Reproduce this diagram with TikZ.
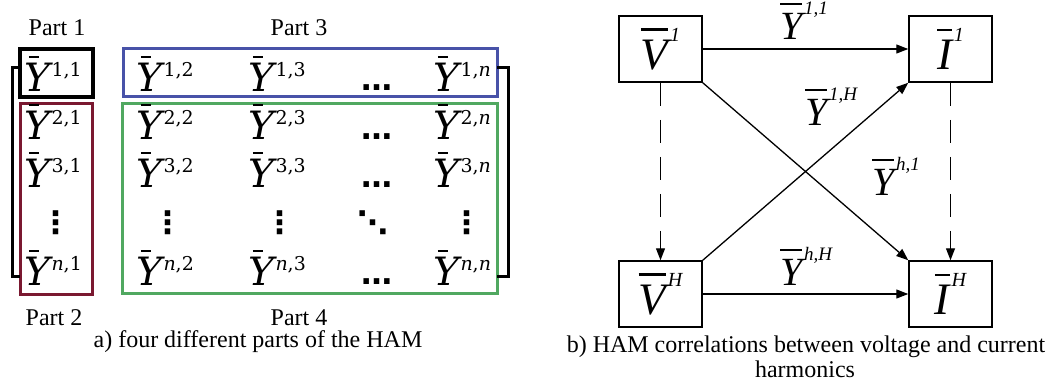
\documentclass[tikz,border=0pt]{standalone}
\usepackage{fontspec}
\setmainfont{Liberation Serif}
\newfontfamily\mfont{DejaVu Serif}
\newfontfamily\dfont{DejaVu Sans}
\usetikzlibrary{arrows.meta}
\definecolor{pblue}{RGB}{72,82,168}
\definecolor{pred}{RGB}{122,24,48}
\definecolor{pgreen}{RGB}{80,168,96}
\newsavebox\obox
\newcommand\ob[4]{{\fontsize{#3}{#3}\selectfont\sbox\obox{\itshape #1}\rlap{\rule[\dimexpr\ht\obox+0.2em\relax]{\wd\obox}{0.05em}}\usebox\obox\kern0.04em\raisebox{0.62em}{\fontsize{#4}{#4}\selectfont\itshape #2}}}
\newcommand\mb[1]{{\mfont\fontsize{39}{39}\selectfont\sbox\obox{\itshape Y}\rlap{\kern0.12em\rule[\dimexpr\ht\obox+0.12em\relax]{0.27em}{0.05em}}\usebox\obox\kern0.04em\raisebox{0.36em}{\fontsize{19}{19}\selectfont #1}}}
\tikzset{
  hbox/.style={draw, line width=1.5pt, minimum width=83pt, minimum height=66pt, inner sep=0pt},
  arr/.style={-{Triangle[length=12pt,width=9pt]}, line width=1.3pt},
  dsh/.style={dash pattern=on 23pt off 14pt},
  captxt/.style={font=\fontsize{24}{28}\selectfont, inner sep=0pt, anchor=base},
  ent/.style={inner sep=0pt, anchor=base west},
  dts/.style={font=\dfont\bfseries\fontsize{31}{31}\selectfont, inner sep=0pt},
  lbl/.style={inner sep=0pt, anchor=base west},
  brk/.style={line width=3pt},
}
\begin{document}
\begin{tikzpicture}[x=1pt,y=-1pt]
\useasboundingbox[fill=white] (0,0) rectangle (1062,389);
% ---------- left: matrix ----------
\node[captxt] (p1) at (57,35) {Part 1};
\node[captxt] (p3) at (299,35) {Part 3};
\node[captxt] (p2) at (54,325) {Part 2};
\node[captxt] (p4) at (299,325) {Part 4};
\node[captxt] (capa) at (258,347) {a) four different parts of the HAM};
% boxes
\draw[line width=3.5pt] (20,49) rectangle (93,97);
\draw[pblue, line width=3pt] (123,48) rectangle (497,96);
\draw[pred, line width=3pt] (20,103) rectangle (92,294);
\draw[pgreen, line width=3pt] (122,103) rectangle (497,293);
% brackets
\draw[brk] (20,67) -- (12,67) -- (12,276) -- (20,276);
\draw[brk] (497,67) -- (508,67) -- (508,276) -- (497,276);
% entries row 1
\node[ent] (e11) at (24,91) {\mb{1,1}};
\node[ent] (e12) at (136,91) {\mb{1,2}};
\node[ent] (e13) at (248,91) {\mb{1,3}};
\node[dts,anchor=base west] (d1) at (361,90) {…};
\node[ent] (e1n) at (433,91) {\mb{1,\textit{n}}};
% row 2
\node[ent] (e21) at (24,139) {\mb{2,1}};
\node[ent] (e22) at (136,139) {\mb{2,2}};
\node[ent] (e23) at (248,139) {\mb{2,3}};
\node[dts,anchor=base west] (d2) at (361,139) {…};
\node[ent] (e2n) at (433,139) {\mb{2,\textit{n}}};
% row 3
\node[ent] (e31) at (24,187) {\mb{3,1}};
\node[ent] (e32) at (136,187) {\mb{3,2}};
\node[ent] (e33) at (248,187) {\mb{3,3}};
\node[dts,anchor=base west] (d3) at (361,187) {…};
\node[ent] (e3n) at (433,187) {\mb{3,\textit{n}}};
% vdots row
\node[dts] (v1) at (56,223) {⋮};
\node[dts] (v2) at (168,223) {⋮};
\node[dts] (v3) at (280,223) {⋮};
\node[dts] (v4) at (373,223) {⋱};
\node[dts] (v5) at (467,223) {⋮};
% row n
\node[ent] (en1) at (24,285) {\mb{\textit{n},1}};
\node[ent] (en2) at (136,285) {\mb{\textit{n},2}};
\node[ent] (en3) at (248,285) {\mb{\textit{n},3}};
\node[dts,anchor=base west] (dn) at (361,284) {…};
\node[ent] (enn) at (433,285) {\mb{\textit{n},\textit{n}}};
% ---------- right: correlations ----------
\node[hbox] (V1) at (660.5,49) {\ob{V}{1}{45}{20}};
\node[hbox] (I1) at (950.5,49) {\ob{I}{1}{45}{20}};
\node[hbox] (VH) at (660.5,294) {\ob{V}{H}{45}{20}};
\node[hbox] (IH) at (950.5,294) {\ob{I}{H}{45}{20}};
\draw[arr] (V1.east) -- (I1.west);
\draw[arr] (VH.east) -- (IH.west);
\draw[arr] (V1.south east) -- (IH.north west);
\draw[arr] (VH.north east) -- (I1.south west);
\draw[arr,dsh] (V1.south) -- (VH.north);
\draw[arr,dsh] (I1.south) -- (IH.north);
\node[lbl] (y11) at (780,39) {\ob{Y}{1,1}{40}{19}};
\node[lbl] (y1H) at (805,125) {\ob{Y}{1,H}{40}{19}};
\node[lbl] (yh1) at (872,195) {\ob{Y}{h,1}{40}{19}};
\node[lbl] (yhH) at (780,285) {\ob{Y}{h,H}{40}{19}};
\node[captxt] (capb) at (806,352) {b) HAM correlations between voltage and current};
\node[captxt] (capb2) at (805,377) {harmonics};
\end{tikzpicture}
\end{document}
